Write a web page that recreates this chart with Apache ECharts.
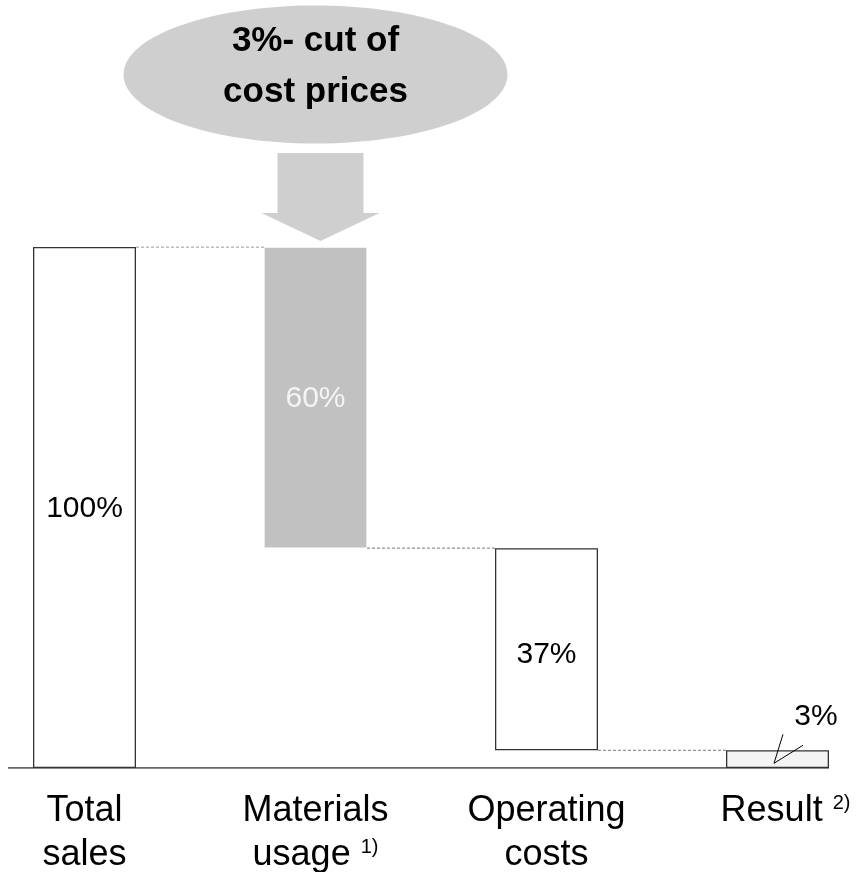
<!DOCTYPE html>
<html><head><meta charset="utf-8">
<script src="https://cdn.jsdelivr.net/npm/echarts@6/dist/echarts.min.js"></script>
<style>html,body{margin:0;padding:0;background:#fff}#c{width:861px;height:872px}</style>
</head><body><div id="c"></div>
<script>
// ---- data ----
const categories = ['Total sales', 'Materials usage', 'Operating costs', 'Result'];
const categoryLabels = ['Total\nsales', 'Materials\nusage {sup|1)}', 'Operating\ncosts', '{res|Result} {sup|2)}'];
const barKinds = ['total', 'decrease', 'decrease', 'total'];
const barValues = [100, 57.8, 38.8, 3.4];          // bar heights as drawn
const valueLabels = ['100%', '60%', '37%', '3%'];   // printed shares
const calloutTitle = ['3%- cut of', 'cost prices'];

// ---- derived waterfall bases ----
const bases = [];
let level = 0;
barValues.forEach((v, i) => {
  if (barKinds[i] === 'total') { bases.push(0); level = v; }
  else { level -= v; bases.push(level); }
});

// ---- layout / style ----
const FONT = 'Liberation Sans, Arial, sans-serif';
const gridLeft = -31, gridWidth = 924, gridTop = 247, gridBottom = 104;
const barWidthPx = 103;
const slot = gridWidth / categories.length;
const half = barWidthPx / 2 / slot;
const fills = ['#ffffff', '#c1c1c1', '#ffffff', '#f4f4f4'];
const borders = ['#333333', 'transparent', '#333333', '#333333'];
const labelColors = ['#000000', '#f4f4f4', '#000000', '#000000'];

const chart = echarts.init(document.getElementById('c'), null, {renderer: 'canvas'});

const connectorSeries = [];
for (let i = 0; i < categories.length - 1; i++) {
  const y = bases[i + 1] + barValues[i + 1];
  connectorSeries.push({
    type: 'line', xAxisIndex: 1, yAxisIndex: 0, symbol: 'none', silent: true, z: 3,
    lineStyle: {color: '#7a7a7a', width: 1, type: [3, 2]},
    data: [[i + half, y], [i + 1 - half, y]]
  });
}

chart.setOption({
  animation: false,
  backgroundColor: '#fff',
  grid: {left: gridLeft, width: gridWidth, top: gridTop, bottom: gridBottom,
         containLabel: false, outerBoundsMode: 'none'},
  xAxis: [{
    type: 'category', data: categories,
    axisLine: {show: false}, axisTick: {show: false},
    axisLabel: {
      interval: 0, margin: 21, color: '#000', fontFamily: FONT, fontSize: 36, lineHeight: 44,
      formatter: (v, i) => categoryLabels[i],
      rich: {
        sup: {fontSize: 20, lineHeight: 20, verticalAlign: 'top', padding: [4, 0, 0, 0], color: '#000', fontFamily: FONT},
        res: {fontSize: 36, lineHeight: 44, color: '#000', fontFamily: FONT, padding: [0, 0, 0, 16]}
      }
    }
  }, {
    type: 'value', min: -0.5, max: categories.length - 0.5, show: false
  }],
  yAxis: {type: 'value', min: 0, max: 100, show: false},
  series: [{
    type: 'bar', stack: 'w', silent: true, barWidth: barWidthPx,
    itemStyle: {color: 'transparent'}, data: bases
  }, {
    type: 'bar', stack: 'w', barWidth: barWidthPx,
    data: barValues.map((v, i) => ({
      value: v,
      itemStyle: {color: fills[i], borderColor: borders[i], borderWidth: 1.3},
      label: i === 3
        ? {show: true, position: 'top', distance: 0, offset: [38.5, -19], formatter: valueLabels[i],
           color: labelColors[i], fontSize: 30, fontFamily: FONT}
        : {show: true, position: 'inside', offset: [0, i === 2 ? 6 : 1], formatter: valueLabels[i],
           color: labelColors[i], fontSize: 30, fontFamily: FONT}
    }))
  }, ...connectorSeries, {
    type: 'line', xAxisIndex: 1, yAxisIndex: 0, symbol: 'none', silent: true, z: 4,
    lineStyle: {color: '#333333', width: 1.3},
    data: [[-half - 0.108, 0], [categories.length - 1 + half, 0]]
  }]
});

// ---- annotations anchored to bars ----
const m = chart.convertToPixel({xAxisIndex: 1, yAxisIndex: 0}, [1, bases[1] + barValues[1]]);
const r = chart.convertToPixel({xAxisIndex: 1, yAxisIndex: 0}, [3, bases[3] + barValues[3]]);
const ax = m[0] + 5, ay = m[1];
chart.setOption({
  graphic: [{
    type: 'ellipse', z: 100, shape: {cx: m[0], cy: m[1] - 172.5, rx: 192, ry: 69},
    style: {fill: '#cfcfcf'}, silent: true
  }, {
    type: 'text', z: 101, x: m[0], y: m[1] - 180, silent: true,
    style: {text: calloutTitle.join('\n'), font: 'bold 35px ' + FONT, fill: '#000',
            align: 'center', verticalAlign: 'middle', lineHeight: 51}
  }, {
    type: 'polygon', z: 100, silent: true,
    shape: {points: [[-43, -94], [43, -94], [43, -34], [59, -34], [0, -6], [-59, -34], [-43, -34]]
      .map(p => [ax + p[0], ay + p[1]])},
    style: {fill: '#cfcfcf'}
  }, {
    type: 'polyline', z: 100, silent: true,
    shape: {points: [[5.5, -16], [-3.5, 13], [25.5, -5]].map(p => [r[0] + p[0], r[1] + p[1]])},
    style: {stroke: '#000', lineWidth: 1, fill: null}
  }]
});
</script></body></html>
